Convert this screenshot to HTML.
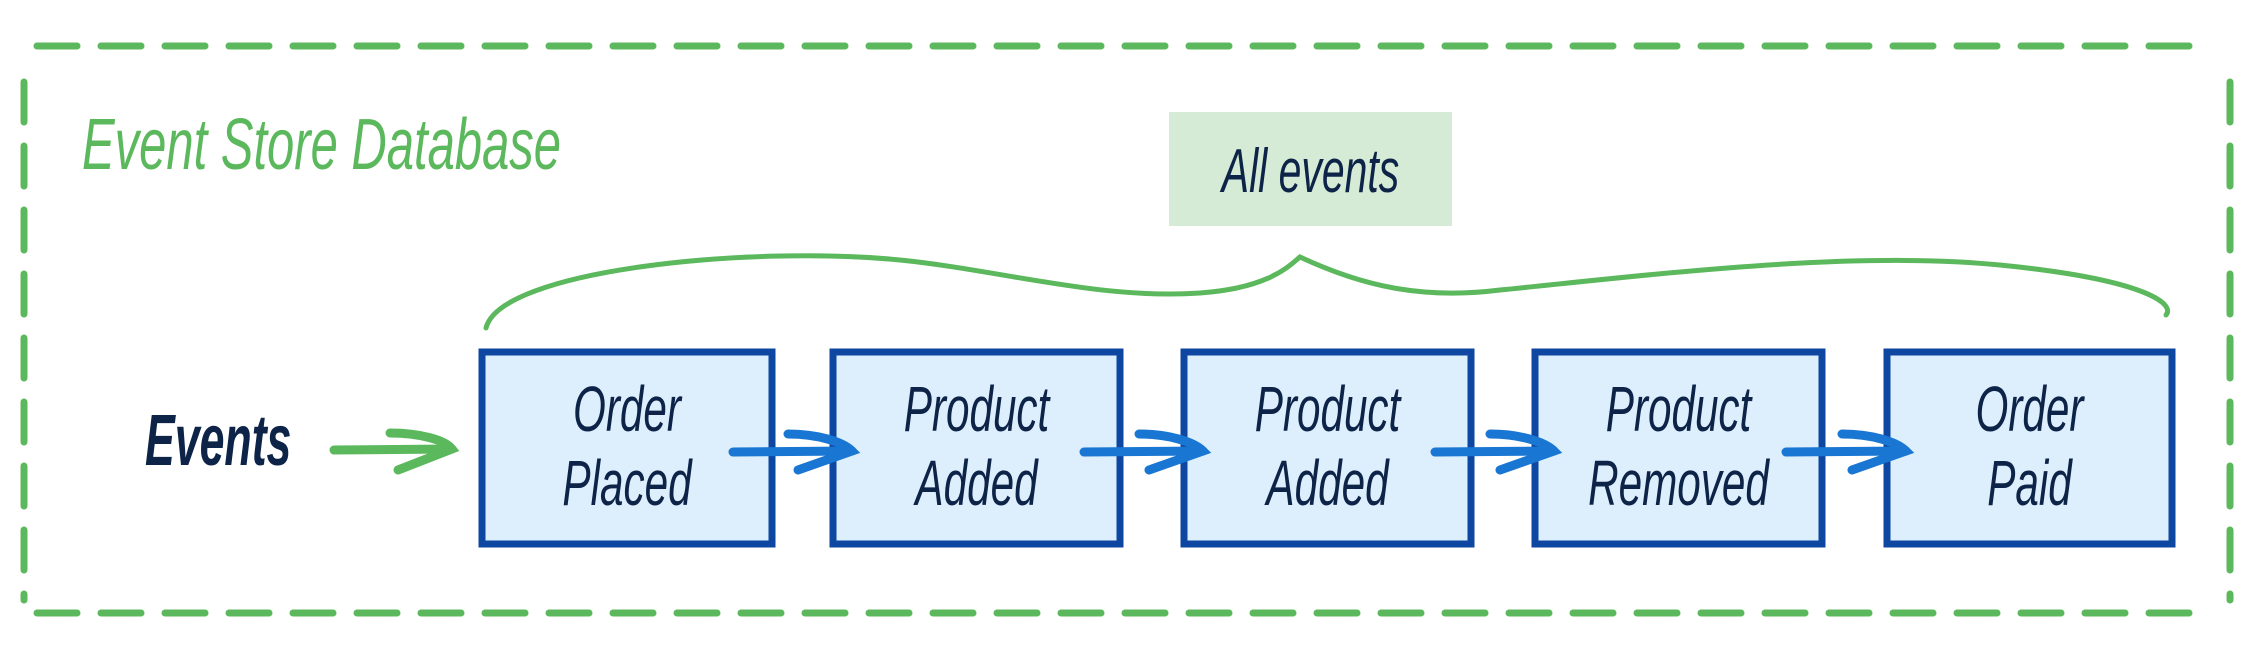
<!DOCTYPE html>
<html><head><meta charset="utf-8"><style>
html,body{margin:0;padding:0;background:#fff;}
body{width:2254px;height:658px;position:relative;overflow:hidden;font-family:"Liberation Sans",sans-serif;}
.t{position:absolute;font-style:italic;color:#0d2448;white-space:nowrap;transform-origin:center;}
</style></head><body>
<svg width="2254" height="658" style="position:absolute;left:0;top:0">
<g fill="none" stroke="#5cb85c" stroke-width="7" stroke-linecap="round" stroke-dasharray="40 24">
<line x1="37" y1="46" x2="2205" y2="46"/>
<line x1="37" y1="613" x2="2205" y2="613"/>
<line x1="24" y1="82" x2="24" y2="600"/>
<line x1="2230" y1="82" x2="2230" y2="600"/>
</g>
<rect x="1169" y="112" width="283" height="114" fill="#d5ebd5"/>
<path d="M486,328 C500,270 750,245 900,260 C1000,270 1100,300 1200,293 C1270,288 1290,265 1300,257 C1360,285 1420,300 1500,290 C1650,275 1850,250 2000,265 C2150,280 2175,305 2166,315" fill="none" stroke="#5cb85c" stroke-width="5" stroke-linecap="round"/>
<g stroke="#5cb85c" stroke-width="9" stroke-linecap="round" fill="none">
<line x1="334" y1="450" x2="452" y2="449"/>
<path d="M390,433 C420,433 445,440 452,449 L398,470"/>
</g>
<g fill="#ddeefc" stroke="#0d47a1" stroke-width="7">
<rect x="482" y="352" width="290" height="192"/>
<rect x="833" y="352" width="287" height="192"/>
<rect x="1184" y="352" width="287" height="192"/>
<rect x="1535" y="352" width="287" height="192"/>
<rect x="1887" y="352" width="285" height="192"/>
</g>
<g stroke="#1976d2" stroke-width="9" stroke-linecap="round" fill="none">
<line x1="733" y1="452" x2="852" y2="451"/><path d="M788,434 C818,434 843,442 852,451 L798,470"/>
<line x1="1084" y1="452" x2="1203" y2="451"/><path d="M1139,434 C1169,434 1194,442 1203,451 L1149,470"/>
<line x1="1435" y1="452" x2="1554" y2="451"/><path d="M1490,434 C1520,434 1545,442 1554,451 L1500,470"/>
<line x1="1786" y1="452" x2="1906" y2="451"/><path d="M1842,434 C1872,434 1897,442 1906,451 L1852,470"/>
</g>
</svg>
<div class="t" style="left:82px;top:104px;font-size:72px;color:#5cb85c;transform:scaleX(0.68);transform-origin:left;">Event Store Database</div>
<div class="t" style="left:145px;top:400px;font-size:72px;font-weight:bold;transform:scaleX(0.62);transform-origin:left;">Events</div>
<div class="t" style="left:1169px;width:283px;text-align:center;top:136px;font-size:62px;transform:scaleX(0.66);">All events</div>
<div class="t" style="left:482px;width:290px;text-align:center;top:372px;font-size:64px;line-height:74px;transform:scaleX(0.66);">Order<br>Placed</div>
<div class="t" style="left:833px;width:287px;text-align:center;top:372px;font-size:64px;line-height:74px;transform:scaleX(0.66);">Product<br>Added</div>
<div class="t" style="left:1184px;width:287px;text-align:center;top:372px;font-size:64px;line-height:74px;transform:scaleX(0.66);">Product<br>Added</div>
<div class="t" style="left:1535px;width:287px;text-align:center;top:372px;font-size:64px;line-height:74px;transform:scaleX(0.66);">Product<br>Removed</div>
<div class="t" style="left:1887px;width:285px;text-align:center;top:372px;font-size:64px;line-height:74px;transform:scaleX(0.66);">Order<br>Paid</div>
</body></html>
